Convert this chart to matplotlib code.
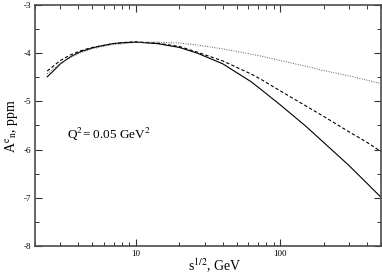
import matplotlib
matplotlib.use('Agg')
import matplotlib.pyplot as plt
from matplotlib.ticker import LogLocator, FixedLocator, NullFormatter

plt.rcParams['font.family'] = ['Liberation Serif', 'DejaVu Serif']
plt.rcParams['mathtext.fontset'] = 'stix'
plt.rcParams['axes.unicode_minus'] = False

# sqrt(s) in GeV
s_vals = [2.43, 2.7, 3.0, 3.5, 4.13, 5, 5.7, 7, 8.5, 10, 14, 20, 26.7, 40,
          62.8, 73.5, 100, 150, 200, 300, 400, 500]

# A_n^e in ppm for the three curves
solid_vals = [-4.49, -4.36, -4.22, -4.08, -3.97, -3.89, -3.85, -3.80, -3.78,
              -3.77, -3.80, -3.88, -4.00, -4.22, -4.59, -4.75, -5.07, -5.51,
              -5.85, -6.33, -6.70, -6.99]
dashed_vals = [-4.37, -4.26, -4.15, -4.04, -3.95, -3.88, -3.85, -3.80, -3.775,
               -3.765, -3.79, -3.86, -3.98, -4.16, -4.43, -4.54, -4.78, -5.09,
               -5.31, -5.63, -5.85, -6.04]
dotted_vals = [-4.43, -4.32, -4.21, -4.09, -3.99, -3.91, -3.87, -3.82, -3.795,
               -3.78, -3.77, -3.79, -3.83, -3.91, -4.02, -4.06, -4.15, -4.27,
               -4.36, -4.47, -4.56, -4.63]

xticks = [10, 100]
yticks = [-8, -7, -6, -5, -4, -3]

fig = plt.figure(figsize=(3.82, 2.78), dpi=100)
ax = fig.add_axes([35 / 382, 32 / 278, 346 / 382, 241 / 278])

ax.plot(s_vals, solid_vals, color='k', lw=0.8)
ax.plot(s_vals, dashed_vals, color='k', lw=0.8, dashes=(3, 2))
ax.plot(s_vals, dotted_vals, color='0.35', lw=0.7, dashes=(1, 1.5))

ax.set_xscale('log')
ax.set_xlim(2, 500)
ax.set_ylim(-8, -3)

ax.xaxis.set_major_locator(FixedLocator(xticks))
ax.xaxis.set_minor_locator(LogLocator(base=10, subs=range(2, 10)))
ax.xaxis.set_minor_formatter(NullFormatter())
ax.set_xticklabels([str(t) for t in xticks])
ax.set_yticks(yticks)
ax.set_yticks([-7.5, -6.5, -5.5, -4.5, -3.5], minor=True)

ax.tick_params(which='both', direction='in', top=True, right=True,
               labelsize=6.5, color='0.2', pad=3)
ax.tick_params(which='major', length=5, width=0.8)
ax.tick_params(which='minor', length=3, width=0.7)
for sp in ax.spines.values():
    sp.set_linewidth(1.2)
    sp.set_color('0.3')

ax.text(0.093, 0.445, r'Q$^2$= 0.05 GeV$^2$', transform=ax.transAxes,
        fontsize=9.5, ha='left', va='baseline')

fig.text(188 / 382, 1 - 271 / 278, r's$^{1/2}$, GeV', fontsize=10,
         ha='left', va='baseline')
fig.text(12 / 382, 1 - 126 / 278, r'A$^{\rm e}{}_{\rm n}$, ppm', fontsize=10,
         rotation=90, ha='center', va='center')

fig.savefig('out.png', dpi=100)
